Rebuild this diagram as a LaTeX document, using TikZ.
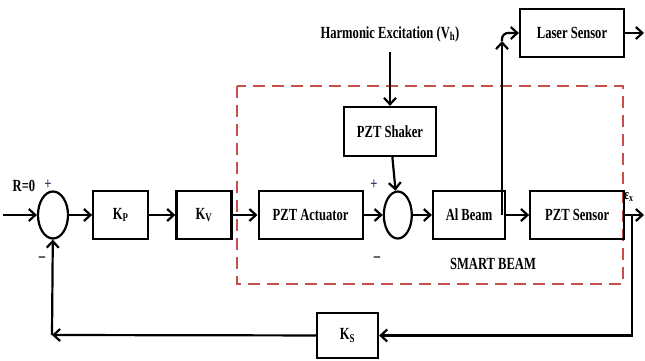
\documentclass[tikz,border=0pt]{standalone}
\usepackage{fontspec}
\setmainfont{Liberation Serif}[FakeStretch=0.74]
\usetikzlibrary{positioning,arrows.meta,calc,shapes.geometric}
\definecolor{beamred}{RGB}{200,80,76}
\definecolor{signblue}{RGB}{60,50,110}

\begin{document}
\begin{tikzpicture}[x=1pt,y=-1pt,>={Straight Barb[length=6.5pt,width=12pt]},
  line width=2.2pt, font=\fontsize{17}{19}\selectfont\bfseries,
  blk/.style={draw,inner sep=0pt,minimum height=48pt},
  adder/.style={draw,ellipse,inner sep=0pt,minimum width=30pt,minimum height=47pt},
  sgn/.style={font=\fontsize{17}{18}\selectfont\bfseries}]
  \useasboundingbox (0,0) rectangle (645,360);
  % smart beam frame
  \draw[beamred,line width=2.8pt,dash pattern=on 12pt off 7pt] (237,86) rectangle (623,284);
  \node (sb) at (493,264) {SMART BEAM};
  % forward path
  \node[adder] (s1) at (53,215) {};
  \node[blk,minimum width=55pt,right=23pt of s1] (kp) {K\textsubscript{P}};
  \node[blk,minimum width=55pt,right=26pt of kp] (kv) {K\textsubscript{V}};
  \node[blk,minimum width=104pt,right=25pt of kv] (act) {PZT Actuator};
  \node[adder,minimum width=28pt,right=19pt of act] (s2) {};
  \node[blk,minimum width=72pt,right=19pt of s2] (al) {Al Beam};
  \node[blk,minimum width=94pt,right=23pt of al] (sens) {PZT Sensor};
  % excitation and laser
  \node[blk,minimum width=92pt,minimum height=49pt] (shk) at (390,131.5) {PZT Shaker};
  \node (harm) at (390,34) {Harmonic Excitation (V\textsubscript{h})};
  \node[blk,minimum width=104pt] (laser) at (572,33) {Laser Sensor};
  \node[blk,minimum width=61pt,minimum height=45pt] (ks) at (347.5,335.5) {K\textsubscript{S}};
  % signs and labels
  \node (ref) at (24,186) {R=0};
  \node[sgn,text=signblue] at (48,185) {+};
  \node[sgn] at (42,259) {--};
  \node[sgn,text=signblue] at (374,185) {+};
  \node[sgn] at (377,259) {--};
  \node[font=\fontsize{15}{16}\selectfont\bfseries] (eps) at (629,197) {ε\textsubscript{x}};
  \coordinate (in) at (3,215);
  \coordinate (tap) at (502,215);
  \coordinate (lup) at (502,41);
  \coordinate (lout) at (644,33);
  \coordinate (out) at (644,215);
  \coordinate (fbR) at (632,215);
  \coordinate (fbL) at (52,335);
  \coordinate (hx) at (390,52);
  % connectors
  \draw[->] (in) -- (s1);
  \draw[->] (s1) -- (kp); \draw[->] (kp) -- (kv); \draw[->] (kv) -- (act);
  \draw[->] (act) -- (s2); \draw[->] (s2) -- (al); \draw[->] (al) -- (sens);
  \draw[->] (hx) -- (shk); \draw[->] (shk) -- (s2);
  \draw[->] (tap) -- (lup);
  \draw[->,rounded corners=6pt] (lup) |- (laser.west);
  \draw[->] (laser) -- (lout);
  \draw[->] (sens) -- (out);
  \draw[->] (fbR) |- (ks);   % feedback through K_S
  \draw[->] (ks) -- (fbL);
  \draw[->] (fbL) -- (s1);
\end{tikzpicture}
\end{document}
